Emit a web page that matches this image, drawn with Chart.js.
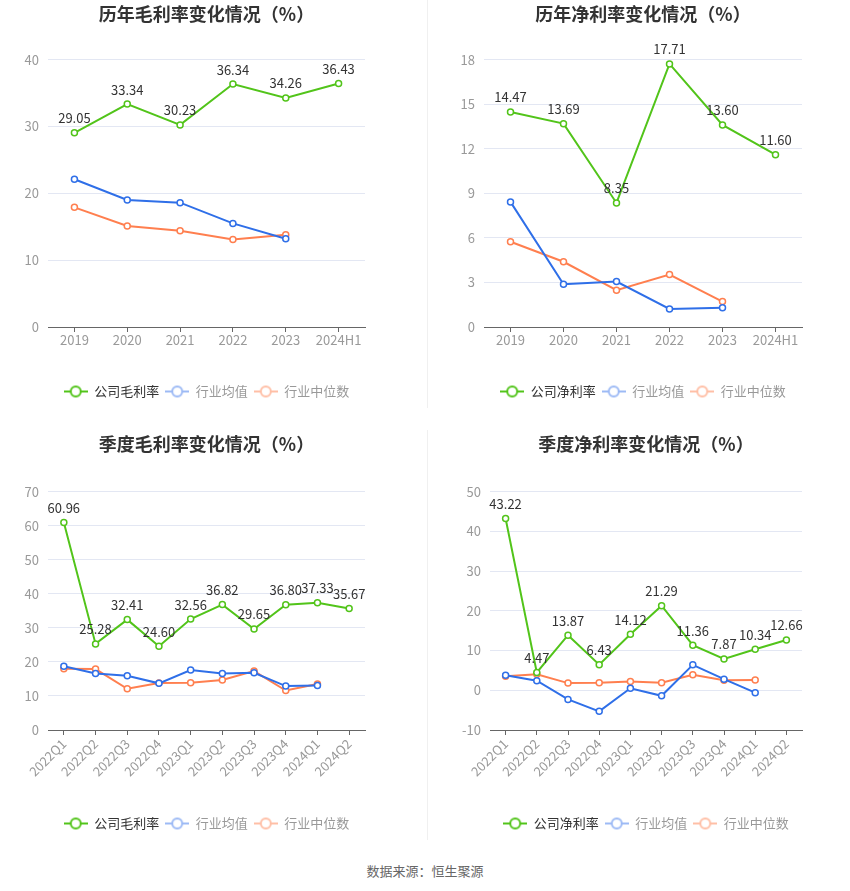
<!DOCTYPE html>
<html>
<head>
<meta charset="utf-8">
<script src="https://cdn.jsdelivr.net/npm/chart.js@4.4.1/dist/chart.umd.min.js"></script>
<style>
  body { margin: 0; background: #fff; font-family: "Noto Sans CJK SC", "Noto Sans", sans-serif; }
  #wrap { position: relative; width: 850px; height: 891px; }
  .cell { position: absolute; width: 425px; height: 410px; }
  .divider { position: absolute; left: 427px; width: 1px; background: #f0f0f0; }
  #source { position: absolute; left: 0; width: 850px; top: 861px; text-align: center; font-size: 13px; color: #666; }
</style>
</head>
<body>
<div id="wrap">
  <div class="cell" style="left:0;top:0"><canvas id="c1" width="425" height="408"></canvas></div>
  <div class="cell" style="left:425px;top:0"><canvas id="c2" width="425" height="408"></canvas></div>
  <div class="cell" style="left:0;top:430px"><canvas id="c3" width="425" height="410"></canvas></div>
  <div class="cell" style="left:425px;top:430px"><canvas id="c4" width="425" height="410"></canvas></div>
  <div class="divider" style="top:0;height:408px"></div>
  <div class="divider" style="top:430px;height:410px"></div>
  <div id="source">数据来源：恒生聚源</div>
</div>
<script>
// yearly data
const years = ['2019', '2020', '2021', '2022', '2023', '2024H1'];
const grossCompany = [29.05, 33.34, 30.23, 36.34, 34.26, 36.43];
const grossMean = [22.1, 19.0, 18.6, 15.5, 13.2];
const grossMedian = [17.9, 15.1, 14.4, 13.1, 13.8];

const netCompany = [14.47, 13.69, 8.35, 17.71, 13.60, 11.60];
const netMean = [8.42, 2.88, 3.06, 1.22, 1.30];
const netMedian = [5.74, 4.39, 2.48, 3.53, 1.71];

// quarterly data
const quarters = ['2022Q1', '2022Q2', '2022Q3', '2022Q4', '2023Q1', '2023Q2', '2023Q3', '2023Q4', '2024Q1', '2024Q2'];
const qGrossCompany = [60.96, 25.28, 32.41, 24.60, 32.56, 36.82, 29.65, 36.80, 37.33, 35.67];
const qGrossMean = [18.7, 16.6, 15.9, 13.7, 17.6, 16.6, 16.8, 12.9, 13.1];
const qGrossMedian = [18.0, 17.9, 12.1, 13.8, 13.9, 14.7, 17.3, 11.6, 13.5];

const qNetCompany = [43.22, 4.47, 13.87, 6.43, 14.12, 21.29, 11.36, 7.87, 10.34, 12.66];
const qNetMean = [3.8, 2.4, -2.3, -5.3, 0.5, -1.4, 6.4, 2.8, -0.6];
const qNetMedian = [3.5, 4.0, 1.8, 1.9, 2.2, 1.9, 3.9, 2.5, 2.6];

const GREEN = '#52C41A';
const BLUE = '#2F6FE8';
const ORANGE = '#FF7F4F';
const FONT = '"Noto Sans CJK SC", "Noto Sans", sans-serif';

// legend icon: short line with a hollow circle in the middle
function legendIcon(color) {
    const c = document.createElement('canvas');
    c.width = 24;
    c.height = 14;
    const ctx = c.getContext('2d');
    ctx.strokeStyle = color;
    ctx.lineWidth = 2;
    ctx.beginPath();
    ctx.moveTo(0, 7);
    ctx.lineTo(24, 7);
    ctx.stroke();
    ctx.beginPath();
    ctx.arc(12, 7, 5, 0, Math.PI * 2);
    ctx.fillStyle = '#fff';
    ctx.fill();
    ctx.stroke();
    return c;
}

// value labels above the company series
const valueLabels = {
    id: 'valueLabels',
    afterDatasetsDraw(chart) {
        const ctx = chart.ctx;
        const meta = chart.getDatasetMeta(0);
        const data = chart.data.datasets[0].data;
        ctx.save();
        ctx.font = '13px ' + FONT;
        ctx.fillStyle = '#333';
        ctx.textAlign = 'center';
        ctx.textBaseline = 'bottom';
        meta.data.forEach((pt, i) => {
            ctx.fillText(data[i].toFixed(2), pt.x, pt.y - 8);
        });
        ctx.restore();
    }
};

function makeChart(id, opt) {
    const legendNames = [opt.name, '行业均值', '行业中位数'];
    const icons = [legendIcon(GREEN), legendIcon('#9DBAF5'), legendIcon('#FFBFA6')];
    const textColors = ['#333', '#999', '#999'];

    new Chart(document.getElementById(id).getContext('2d'), {
        type: 'line',
        data: {
            labels: opt.labels,
            datasets: [
                { label: opt.name, data: opt.company, borderColor: GREEN },
                { label: '行业均值', data: opt.mean, borderColor: BLUE },
                { label: '行业中位数', data: opt.median, borderColor: ORANGE }
            ].map(ds => Object.assign(ds, {
                borderWidth: 2,
                tension: 0,
                pointRadius: 3,
                pointBorderWidth: 1.5,
                pointBackgroundColor: '#fff',
                pointBorderColor: ds.borderColor
            }))
        },
        options: {
            responsive: false,
            animation: false,
            layout: { padding: { left: 0, right: opt.padRight, top: 0, bottom: 0 } },
            plugins: {
                title: {
                    display: true,
                    text: opt.title,
                    fullSize: false,
                    color: '#333',
                    font: { family: FONT, size: 18, weight: 'bold' },
                    padding: { top: 3, bottom: opt.titleGap }
                },
                legend: {
                    position: 'bottom',
                    fullSize: false,
                    labels: {
                        usePointStyle: true,
                        pointStyleWidth: 24,
                        boxHeight: 13,
                        padding: 6,
                        font: { family: FONT, size: 13 },
                        generateLabels: () => legendNames.map((t, i) => ({
                            text: t,
                            fontColor: textColors[i],
                            pointStyle: icons[i],
                            datasetIndex: i,
                            hidden: false,
                            lineWidth: 0,
                            strokeStyle: 'transparent',
                            fillStyle: 'transparent'
                        }))
                    }
                },
                tooltip: { enabled: false }
            },
            scales: {
                x: {
                    offset: true,
                    grid: {
                        offset: false,
                        drawOnChartArea: false,
                        drawTicks: true,
                        tickLength: 5,
                        color: '#666'
                    },
                    border: { color: '#666' },
                    ticks: {
                        color: '#999',
                        font: { family: FONT, size: 13 },
                        padding: opt.rotate ? 1 : 0,
                        autoSkip: false,
                        maxRotation: opt.rotate,
                        minRotation: opt.rotate
                    },
                    afterFit: s => { s.height = opt.xHeight; }
                },
                y: {
                    min: opt.min,
                    max: opt.max,
                    grid: { color: '#E3E7F3', drawTicks: false },
                    border: { display: false },
                    ticks: {
                        stepSize: opt.step,
                        color: '#999',
                        padding: 9,
                        font: { family: FONT, size: 13 }
                    },
                    afterFit: s => { s.width = opt.yWidth; }
                }
            }
        },
        plugins: [valueLabels]
    });
}

makeChart('c1', {
    title: '历年毛利率变化情况（%）', name: '公司毛利率',
    labels: years, company: grossCompany, mean: grossMean, median: grossMedian,
    min: 0, max: 40, step: 10, yWidth: 48, padRight: 60,
    titleGap: 35, xHeight: 52, rotate: 0
});
makeChart('c2', {
    title: '历年净利率变化情况（%）', name: '公司净利率',
    labels: years, company: netCompany, mean: netMean, median: netMedian,
    min: 0, max: 18, step: 3, yWidth: 59, padRight: 48,
    titleGap: 35, xHeight: 52, rotate: 0
});
makeChart('c3', {
    title: '季度毛利率变化情况（%）', name: '公司毛利率',
    labels: quarters, company: qGrossCompany, mean: qGrossMean, median: qGrossMedian,
    min: 0, max: 70, step: 10, yWidth: 48, padRight: 60,
    titleGap: 37, xHeight: 81, rotate: 45
});
makeChart('c4', {
    title: '季度净利率变化情况（%）', name: '公司净利率',
    labels: quarters, company: qNetCompany, mean: qNetMean, median: qNetMedian,
    min: -10, max: 50, step: 10, yWidth: 65, padRight: 48,
    titleGap: 37, xHeight: 81, rotate: 45
});
</script>
</body>
</html>
